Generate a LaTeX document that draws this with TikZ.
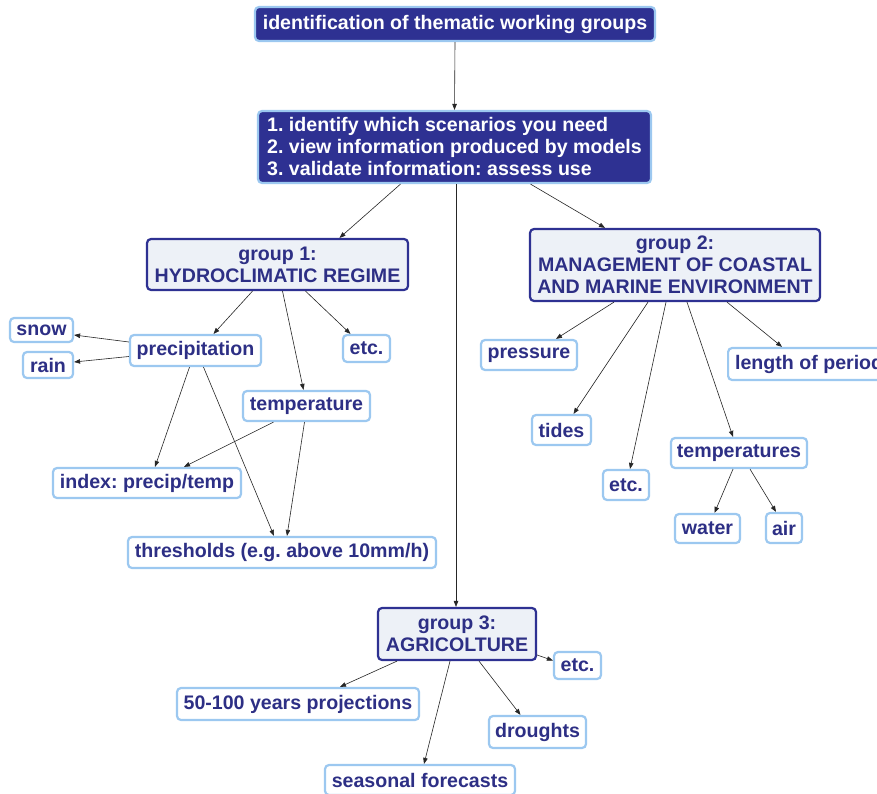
\documentclass[tikz,border=0pt]{standalone}
\usepackage{fontspec}
\setmainfont{Liberation Sans}
\usetikzlibrary{arrows.meta}
\definecolor{navy}{HTML}{2E3192}
\definecolor{navytext}{HTML}{2D2F85}
\definecolor{lightblue}{HTML}{9CC8F0}
\definecolor{groupfill}{HTML}{EDF1F7}
\frenchspacing
\tikzset{
  base/.style={rounded corners=4pt, line width=2.2pt, inner sep=0pt,
    font=\fontsize{19.6}{22}\selectfont\bfseries, align=center},
  headbox/.style={base, fill=navy, draw=lightblue, text=white},
  groupbox/.style={base, fill=groupfill, draw=navy, text=navytext},
  leafbox/.style={base, fill=white, draw=lightblue, text=navytext},
  link/.style={draw=black!85, line width=0.6pt, -{Triangle[length=6pt,width=4.5pt]}}
}
\begin{document}
\begin{tikzpicture}[x=1pt,y=-1pt]
\fill[white] (0,0) rectangle (877,794);
\useasboundingbox (0,0) rectangle (877,794);
\clip (0,0) rectangle (877,794);

% top level
\node[headbox, minimum width=400pt, minimum height=34pt] (top) at (455,24) {identification of thematic working groups};
\node[headbox, minimum width=393pt, minimum height=72pt, align=left] (steps) at (454.5,147)
  {1. identify which scenarios you need\\2. view information produced by models\\3. validate information: assess use};

% groups
\node[groupbox, minimum width=261pt, minimum height=51pt] (g1) at (277.5,264.5) {group 1:\\HYDROCLIMATIC REGIME};
\node[groupbox, minimum width=290pt, minimum height=72pt] (g2) at (675,265) {group 2:\\MANAGEMENT OF COASTAL\\AND MARINE ENVIRONMENT};
\node[groupbox, minimum width=158pt, minimum height=52pt] (g3) at (457,634) {group 3:\\AGRICOLTURE};

% group 1 items
\node[leafbox, minimum width=131pt, minimum height=31pt] (precip) at (195.5,350.5) {precipitation};
\node[leafbox, minimum width=63pt, minimum height=24pt] (snow) at (41.5,330) {snow};
\node[leafbox, minimum width=50pt, minimum height=26pt] (rain) at (48,365) {rain};
\node[leafbox, minimum width=47pt, minimum height=27pt] (etcA) at (366.5,348.5) {etc.};
\node[leafbox, minimum width=127pt, minimum height=30pt] (temp) at (306.5,406) {temperature};
\node[leafbox, minimum width=188pt, minimum height=30pt] (index) at (147,483) {index: precip/temp};
\node[leafbox, minimum width=308pt, minimum height=31pt] (thr) at (282,552.5) {thresholds (e.g. above 10mm/h)};

% group 2 items
\node[leafbox, minimum width=96pt, minimum height=30pt] (press) at (529,355) {pressure};
\node[leafbox, minimum height=32pt, inner xsep=7pt, anchor=west] (length) at (727,364) {length of period};
\node[leafbox, minimum width=59pt, minimum height=30pt] (tides) at (561.5,430) {tides};
\node[leafbox, minimum width=46pt, minimum height=30pt] (etcB) at (626,485) {etc.};
\node[leafbox, minimum width=136pt, minimum height=30pt] (temps) at (739,453) {temperatures};
\node[leafbox, minimum width=65pt, minimum height=29pt] (water) at (707.5,528.5) {water};
\node[leafbox, minimum width=36pt, minimum height=30pt] (air) at (784,528) {air};

% group 3 items
\node[leafbox, minimum width=47pt, minimum height=27pt] (etcC) at (577.5,665.5) {etc.};
\node[leafbox, minimum width=242pt, minimum height=32pt] (proj) at (298,704) {50-100 years projections};
\node[leafbox, minimum width=97pt, minimum height=32pt] (drought) at (537.5,732) {droughts};
\node[leafbox, minimum width=190pt, minimum height=30pt] (season) at (420,780) {seasonal forecasts};

% connectors
\draw[link] (top.south) -- (steps.north);
\draw[link] ([xshift=-54pt]steps.south) -- ([xshift=62pt]g1.north);
\draw[link] ([xshift=76pt]steps.south) -- ([xshift=-70pt]g2.north);
\draw[link] ([xshift=1.5pt]steps.south) -- ([xshift=-1pt]g3.north);

\draw[link] ([xshift=-25pt]g1.south) -- ([xshift=18pt]precip.north);
\draw[link] ([xshift=5pt]g1.south) -- ([xshift=-3pt]temp.north);
\draw[link] ([xshift=28pt]g1.south) -- ([xshift=-16pt]etcA.north);
\draw[link] ([yshift=8.5pt]precip.west) -- ([yshift=-5pt]snow.east);
\draw[link] ([yshift=-6pt]precip.west) -- ([yshift=3pt]rain.east);
\draw[link] ([xshift=-6pt]precip.south) -- ([xshift=8pt]index.north);
\draw[link] ([xshift=8pt]precip.south) -- ([xshift=-8pt]thr.north);
\draw[link] ([xshift=-33pt]temp.south) -- ([xshift=37pt]index.north);
\draw[link] ([xshift=-2pt]temp.south) -- ([xshift=5pt]thr.north);

\draw[link] ([xshift=-61pt]g2.south) -- ([xshift=27pt]press.north);
\draw[link] ([xshift=-27pt]g2.south) -- ([xshift=12pt]tides.north);
\draw[link] ([xshift=-9pt]g2.south) -- ([xshift=4pt]etcB.north);
\draw[link] ([xshift=12pt]g2.south) -- ([xshift=-6pt]temps.north);
\draw[link] ([xshift=52pt]g2.south) -- ([xshift=55pt]length.north west);
\draw[link] ([xshift=-6pt]temps.south) -- ([xshift=7pt]water.north);
\draw[link] ([xshift=11pt]temps.south) -- ([xshift=-8pt]air.north);

\draw[link] ([yshift=-21pt]g3.east) -- ([yshift=5pt]etcC.west);
\draw[link] ([xshift=-60pt]g3.south) -- ([xshift=42pt]proj.north);
\draw[link] ([xshift=-7pt]g3.south) -- ([xshift=4pt]season.north);
\draw[link] ([xshift=22pt]g3.south) -- ([xshift=-17pt]drought.north);
\end{tikzpicture}
\end{document}
